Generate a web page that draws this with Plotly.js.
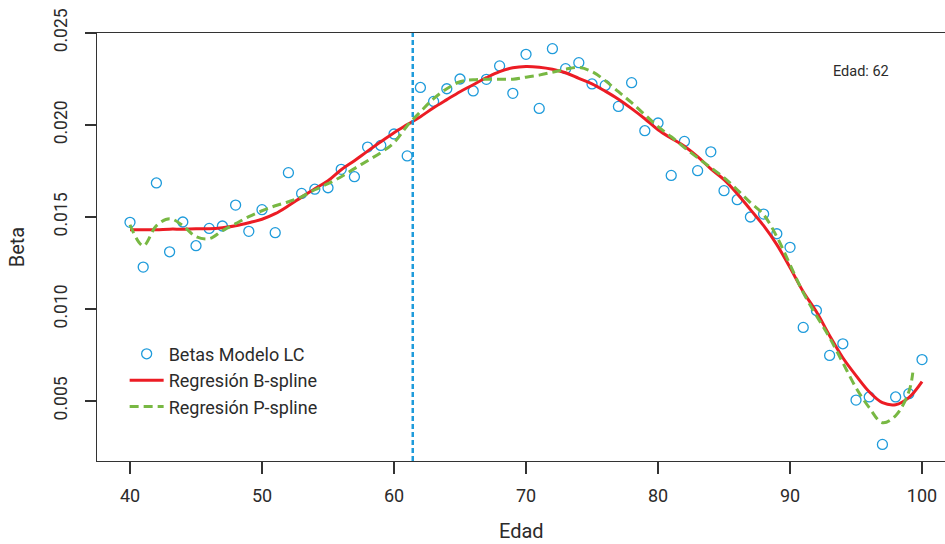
<!DOCTYPE html>
<html>
<head>
<meta charset="utf-8">
<script src="https://cdn.plot.ly/plotly-3.0.1.min.js"></script>
<style>
html,body{margin:0;padding:0;background:#fff;overflow:hidden;}
#chart{width:945px;height:544px;}
</style>
</head>
<body>
<div id="chart"></div>
<script>
// Ages (x)
const edades = [40,41,42,43,44,45,46,47,48,49,50,51,52,53,54,55,56,57,58,59,60,61,62,63,64,65,66,67,68,69,70,71,72,73,74,75,76,77,78,79,80,81,82,83,84,85,86,87,88,89,90,91,92,93,94,95,96,97,98,99,100];

// Betas Modelo LC (points)
const betasLC = [0.01471,0.01228,0.01685,0.01311,0.01473,0.01344,0.01438,0.01451,0.01565,0.01422,0.01540,0.01415,0.01741,0.01628,0.01651,0.01659,0.01759,0.01719,0.01880,0.01889,0.01951,0.01832,0.02204,0.02128,0.02197,0.02250,0.02185,0.02248,0.02321,0.02172,0.02384,0.02090,0.02415,0.02306,0.02339,0.02223,0.02215,0.02101,0.02230,0.01969,0.02011,0.01726,0.01911,0.01752,0.01854,0.01643,0.01594,0.01500,0.01516,0.01409,0.01335,0.00900,0.00992,0.00748,0.00811,0.00505,0.00522,0.00264,0.00522,0.00540,0.00725];

// Regresión B-spline
const bspline = [0.01431,0.01431,0.01431,0.01434,0.01434,0.01436,0.01436,0.01442,0.01453,0.01469,0.01488,0.01518,0.01561,0.01608,0.01654,0.01697,0.01757,0.01806,0.01858,0.01909,0.01958,0.02002,0.02045,0.02094,0.02138,0.02181,0.02219,0.02257,0.02290,0.02311,0.02318,0.02314,0.02303,0.02284,0.02254,0.02224,0.02184,0.02140,0.02089,0.02034,0.01974,0.01928,0.01885,0.01828,0.01762,0.01703,0.01627,0.01540,0.01453,0.01350,0.01225,0.01094,0.00985,0.00855,0.00735,0.00638,0.00550,0.00491,0.00480,0.00518,0.00605];

// Regresión P-spline
const edadesP = [40,41,42,43,44,45,46,47,48,49,50,51,52,53,54,55,56,57,58,59,60,61,62,63,64,65,66,67,68,69,70,71,72,73,74,75,76,77,78,79,80,81,82,83,84,85,86,87,88,89,90,91,92,93,94,95,96,97,98,99,99.3];
const pspline = [0.01458,0.01344,0.01453,0.01491,0.01453,0.01393,0.01382,0.01426,0.01464,0.01502,0.01534,0.01561,0.01583,0.01610,0.01648,0.01681,0.01719,0.01763,0.01806,0.01850,0.01904,0.01996,0.02072,0.02143,0.02197,0.02235,0.02246,0.02249,0.02249,0.02249,0.02260,0.02271,0.02287,0.02303,0.02313,0.02290,0.02241,0.02181,0.02121,0.02056,0.01991,0.01936,0.01877,0.01822,0.01768,0.01714,0.01648,0.01578,0.01513,0.01393,0.01241,0.01089,0.00964,0.00844,0.00708,0.00572,0.00464,0.00382,0.00420,0.00550,0.00654];

// Selected age (vertical line)
const edadSeleccionada = 61.42;
const etiquetaEdad = "Edad: 62";
const tituloX = "Edad";

const xTicks = [40,50,60,70,80,90,100];
const yTicks = [0.005,0.010,0.015,0.020,0.025];
const yTickText = ["0.005","0.010","0.015","0.020","0.025"];

const FONT = "Roboto, 'DejaVu Sans', sans-serif";
const TXT = "#2b2b2b";
const AX = "#333333";

const traces = [
  {
    x: edades, y: betasLC, type: "scatter", mode: "markers",
    name: "Betas Modelo LC", legendgroup: "a",
    marker: {symbol: "circle-open", size: 10, color: "#1E9BDB", line: {width: 1.3, color: "#1E9BDB"}},
    cliponaxis: false
  },
  {
    x: edades, y: bspline, type: "scatter", mode: "lines",
    name: "Regresión B-spline", legendgroup: "b",
    line: {color: "#EC1C24", width: 3, shape: "spline", smoothing: 1}
  },
  {
    x: edadesP, y: pspline, type: "scatter", mode: "lines",
    name: "Regresión P-spline", legendgroup: "c",
    line: {color: "#78B843", width: 3, dash: "9px,5px", shape: "spline", smoothing: 1}
  }
];

const layout = {
  width: 945, height: 544,
  margin: {l: 97, r: 0, t: 33, b: 83},
  paper_bgcolor: "#ffffff", plot_bgcolor: "#ffffff",
  font: {family: FONT, size: 18, color: TXT},
  showlegend: true,
  legend: {
    x: 0.0326, y: 0.293, xanchor: "left", yanchor: "top",
    bgcolor: "rgba(0,0,0,0)", borderwidth: 0,
    font: {family: FONT, size: 18, color: TXT},
    traceorder: "grouped", tracegroupgap: 0, itemwidth: 34
  },
  xaxis: {
    range: [37.5, 101.74],
    tickvals: xTicks,
    ticks: "outside", ticklen: 12, tickwidth: 1.3, tickcolor: AX,
    showline: true, linecolor: AX, linewidth: 1.3, mirror: true,
    showgrid: false, zeroline: false,
    ticklabelstandoff: 6,
    tickfont: {family: FONT, size: 18, color: TXT}
  },
  yaxis: {
    range: [0.00174, 0.025],
    tickvals: yTicks, ticktext: yTickText,
    tickangle: -90,
    ticks: "outside", ticklen: 11, tickwidth: 1.3, tickcolor: AX,
    showline: true, linecolor: AX, linewidth: 1.3, mirror: false,
    showgrid: false, zeroline: false,
    ticklabelstandoff: 11,
    tickfont: {family: FONT, size: 17.5, color: TXT},
    title: {text: "Beta", font: {family: FONT, size: 20, color: TXT}, standoff: 20}
  },
  shapes: [
    {type: "line", xref: "x", yref: "paper", x0: edadSeleccionada, x1: edadSeleccionada, y0: 0, y1: 1,
     line: {color: "#1E9BDB", width: 2.5, dash: "5px,3px"}}
  ],
  annotations: [
    {xref: "paper", yref: "paper", x: 0.866, y: 0.91, xanchor: "left", yanchor: "middle",
     text: etiquetaEdad, showarrow: false, font: {family: FONT, size: 14.5, color: TXT}},
    {xref: "paper", yref: "paper", x: 0.5, y: -0.164, xanchor: "center", yanchor: "middle",
     text: tituloX, showarrow: false, font: {family: FONT, size: 20, color: TXT}}
  ]
};

Plotly.newPlot("chart", traces, layout, {displayModeBar: false, staticPlot: true});
</script>
</body>
</html>
